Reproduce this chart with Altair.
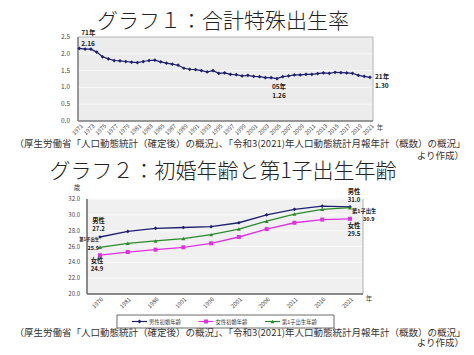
import altair as alt
import pandas as pd

# ---------------- data ----------------
title1 = "グラフ１：合計特殊出生率"
title2 = "グラフ２：初婚年齢と第1子出生年齢"
source_line = "（厚生労働省「人口動態統計（確定後）の概況」、「令和3(2021)年人口動態統計月報年計（概数）の概況」"
source_tail = "より作成）"

tfr_years = list(range(1971, 2022))
tfr_values = [2.16, 2.14, 2.14, 2.05, 1.91, 1.85, 1.80, 1.79, 1.77, 1.75,
              1.74, 1.77, 1.80, 1.81, 1.76, 1.72, 1.69, 1.66, 1.57, 1.54,
              1.53, 1.50, 1.46, 1.50, 1.42, 1.43, 1.39, 1.38, 1.34, 1.36,
              1.33, 1.32, 1.29, 1.29, 1.26, 1.32, 1.34, 1.37, 1.37, 1.39,
              1.39, 1.41, 1.43, 1.42, 1.45, 1.44, 1.43, 1.42, 1.36, 1.33, 1.30]
tfr_xlabels = list(range(1971, 2022, 2))
tfr_yticks = [0.0, 0.5, 1.0, 1.5, 2.0, 2.5]
tfr_note_years = [1971, 2005, 2021]
tfr_note_heads = ["71年", "05年", "21年"]

age_years = [1976, 1981, 1986, 1991, 1996, 2001, 2006, 2011, 2016, 2021]
age_series = ["男性初婚年齢", "女性初婚年齢", "第1子出生年齢"]
male_age = [27.2, 27.9, 28.3, 28.4, 28.5, 29.0, 30.0, 30.7, 31.1, 31.0]
female_age = [24.9, 25.3, 25.6, 25.9, 26.4, 27.2, 28.2, 29.0, 29.4, 29.5]
first_birth_age = [25.9, 26.4, 26.7, 27.0, 27.5, 28.2, 29.2, 30.1, 30.7, 30.9]
age_yticks = [20.0, 22.0, 24.0, 26.0, 28.0, 30.0, 32.0]
age_note_names = ["男性", "女性", "第1子出生"]

# ---------------- style / layout ----------------
FONT = "Noto Sans CJK JP"
M = 8
def px(v):
    return v - M

NAVY = "#1f1f6e"
age_colors = ["#1f1f6e", "#dd33dd", "#2a8a2a"]
age_shapes = ["diamond", "square", "triangle-up"]

one = pd.DataFrame({"k": [0]})

def text_at(s, x, y, size, color="#222", align="center", weight="normal"):
    return alt.Chart(pd.DataFrame({"t": [s]})).mark_text(
        font=FONT, fontSize=size, color=color, align=align, baseline="middle", fontWeight=weight
    ).encode(x=alt.value(px(x)), y=alt.value(px(y)), text="t:N")

def rect(x0, x1, y0, y1, **style):
    return alt.Chart(one).mark_rect(**style).encode(
        x=alt.value(px(x0)), x2=alt.value(px(x1)), y=alt.value(px(y0)), y2=alt.value(px(y1)))

def hline(x0, x1, y, color, w):
    return alt.Chart(one).mark_rule(color=color, strokeWidth=w).encode(
        x=alt.value(px(x0)), x2=alt.value(px(x1)), y=alt.value(px(y)))

def vline(x, y0, y1, color, w):
    return alt.Chart(one).mark_rule(color=color, strokeWidth=w).encode(
        x=alt.value(px(x)), y=alt.value(px(y0)), y2=alt.value(px(y1)))

# ---------------- panel 1 ----------------
P1 = dict(x0=78, x1=373, y0=37, y1=121)
xs1 = alt.Scale(domain=[1970.78, 2021.52], range=[px(P1["x0"]), px(P1["x1"])], nice=False, zero=False)
ys1 = alt.Scale(domain=[0, 2.5], range=[px(P1["y1"]), px(P1["y0"])], nice=False, zero=False)

tfr_df = pd.DataFrame({"year": tfr_years, "v": tfr_values})
X1 = alt.X("year:Q", scale=xs1, axis=None)
Y1 = alt.Y("v:Q", scale=ys1, axis=None)

p1_layers = [
    rect(P1["x0"], P1["x1"], P1["y0"], P1["y1"], fill="#ececec"),
    alt.Chart(pd.DataFrame({"v": tfr_yticks[1:-1]})).mark_rule(color="#fafafa", strokeWidth=1).encode(
        y=Y1, x=alt.value(px(P1["x0"])), x2=alt.value(px(P1["x1"]))),
    hline(P1["x0"], P1["x1"], P1["y0"], "#b5b5b5", 1),
    vline(P1["x1"], P1["y0"], P1["y1"], "#b5b5b5", 1),
    vline(P1["x0"], P1["y0"], P1["y1"], "#777777", 1.5),
    hline(P1["x0"], P1["x1"], P1["y1"], "#777777", 1.5),
    alt.Chart(tfr_df).mark_line(color=NAVY, strokeWidth=1.2).encode(x=X1, y=Y1),
    alt.Chart(tfr_df).mark_point(shape="diamond", filled=True, size=14, color=NAVY, opacity=1).encode(x=X1, y=Y1),
    alt.Chart(pd.DataFrame({"v": tfr_yticks, "lab": [f"{t:.1f}" for t in tfr_yticks]})).mark_text(
        font=FONT, fontSize=6.5, color="#444", align="right", baseline="middle").encode(
        y=Y1, x=alt.value(px(70)), text="lab:N"),
    alt.Chart(pd.DataFrame({"year": tfr_xlabels, "lab": [str(y) for y in tfr_xlabels]})).mark_text(
        font=FONT, fontSize=5.8, color="#444", align="right", baseline="middle", angle=315, dx=2, dy=2).encode(
        x=X1, y=alt.value(px(125)), text="lab:N"),
    text_at("年", 380, 128, 6.5, color="#444"),
]

tfr_note_offsets = [((2, -15.5, "left"), (2, -4.5, "left")),
                    ((2, 8, "center"), (2, 17, "center")),
                    ((5, -0.6, "left"), (5, 8.7, "left"))]
for yr, head, offs in zip(tfr_note_years, tfr_note_heads, tfr_note_offsets):
    v = tfr_values[tfr_years.index(yr)]
    d = pd.DataFrame({"year": [yr], "v": [v], "head": [head], "val": [f"{v:.2f}"]})
    for field, (dx, dy, al) in zip(["head", "val"], offs):
        p1_layers.append(alt.Chart(d).mark_text(
            font=FONT, fontSize=6.5, fontWeight="bold", color="#222", align=al, baseline="middle",
            dx=dx, dy=dy).encode(x=X1, y=Y1, text=f"{field}:N"))

panel1 = alt.layer(*p1_layers)

# ---------------- panel 2 ----------------
P2 = dict(x0=87, x1=363, y0=199, y1=294)
xs2 = alt.Scale(domain=[1973.66, 2023.34], range=[px(P2["x0"]), px(P2["x1"])], nice=False, zero=False)
ys2 = alt.Scale(domain=[20, 32], range=[px(P2["y1"]), px(P2["y0"])], nice=False, zero=False)
X2 = alt.X("year:Q", scale=xs2, axis=None)
Y2 = alt.Y("age:Q", scale=ys2, axis=None)

age_values = [male_age, female_age, first_birth_age]
age_long = pd.DataFrame({
    "year": age_years * 3,
    "age": male_age + female_age + first_birth_age,
    "series": [s for s in age_series for _ in age_years],
})
series_color = alt.Scale(domain=age_series, range=age_colors)

p2_layers = [
    rect(P2["x0"], P2["x1"], P2["y0"], P2["y1"], fill="#f0f0f0"),
    alt.Chart(pd.DataFrame({"age": age_yticks[1:]})).mark_rule(color="#fbfbfb", strokeWidth=1).encode(
        y=Y2, x=alt.value(px(P2["x0"])), x2=alt.value(px(P2["x1"]))),
    vline(P2["x1"], P2["y0"], P2["y1"], "#b0b0b0", 1),
    vline(P2["x0"], P2["y0"], P2["y1"], "#666666", 1.5),
    hline(P2["x0"], P2["x1"], P2["y1"], "#666666", 1.5),
    alt.Chart(age_long).mark_line(strokeWidth=1.3).encode(
        x=X2, y=Y2, stroke=alt.Stroke("series:N", scale=series_color, legend=None)),
]
for s, vals, col, shp in zip(age_series, age_values, age_colors, age_shapes):
    d = pd.DataFrame({"year": age_years, "age": vals})
    p2_layers.append(alt.Chart(d).mark_point(shape=shp, filled=True, size=16 if shp != "diamond" else 14,
                                             color=col, opacity=1).encode(x=X2, y=Y2))

p2_layers += [
    alt.Chart(pd.DataFrame({"age": age_yticks, "lab": [f"{t:.1f}" for t in age_yticks]})).mark_text(
        font=FONT, fontSize=6, color="#444", align="right", baseline="middle").encode(
        y=Y2, x=alt.value(px(80)), text="lab:N"),
    alt.Chart(pd.DataFrame({"year": age_years, "lab": [str(y) for y in age_years]})).mark_text(
        font=FONT, fontSize=5.8, color="#444", align="right", baseline="middle", angle=315, dx=2, dy=1).encode(
        x=X2, y=alt.value(px(299)), text="lab:N"),
    text_at("年", 369, 299, 6.5, color="#444"),
    text_at("歳", 77, 188, 6.5, color="#444"),
]

# annotations: (series index, year index, (dx, dy, align, size) for name, same for value)
age_note_specs = [
    (0, 0, (-1.5, -16, "center", 6.3), (-1.5, -8, "center", 6.0)),
    (2, 0, (-1, -7.5, "right", 4.3), (-1, 1, "right", 5.5)),
    (1, 0, (-3, 6, "center", 6.3), (-3, 14, "center", 6.0)),
    (0, -1, (4, -15, "center", 6.3), (4, -7, "center", 6.0)),
    (2, -1, (2, 3, "left", 5.3), (13, 11, "left", 5.5)),
    (1, -1, (4, 7, "center", 6.3), (4, 15, "center", 6.0)),
]
for si, yi, o_name, o_val in age_note_specs:
    v = age_values[si][yi]
    d = pd.DataFrame({"year": [age_years[yi]], "age": [v], "name": [age_note_names[si]], "val": [f"{v:.1f}"]})
    for field, (dx, dy, al, fs) in zip(["name", "val"], [o_name, o_val]):
        p2_layers.append(alt.Chart(d).mark_text(
            font=FONT, fontSize=fs, fontWeight="bold", color="#222", align=al, baseline="middle",
            dx=dx, dy=dy).encode(x=X2, y=Y2, text=f"{field}:N"))

panel2 = alt.layer(*p2_layers)

# ---------------- legend (series driven through a point scale) ----------------
leg_df = pd.DataFrame({"series": age_series})
LX = alt.X("series:N", scale=alt.Scale(type="point", domain=age_series, range=[px(139.5), px(272.5)], padding=0),
           axis=None)
LY = alt.value(px(321.5))
legend = alt.layer(
    rect(117, 334, 315, 328, fillOpacity=0, stroke="#444", strokeWidth=0.8),
    alt.Chart(leg_df).mark_tick(orient="horizontal", size=15, thickness=1.2, opacity=1).encode(
        x=LX, y=LY, color=alt.Color("series:N", scale=series_color, legend=None)),
    alt.Chart(leg_df).mark_point(filled=True, size=16, opacity=1).encode(
        x=LX, y=LY, color=alt.Color("series:N", scale=series_color, legend=None),
        shape=alt.Shape("series:N", scale=alt.Scale(domain=age_series, range=age_shapes), legend=None)),
    alt.Chart(leg_df).mark_text(font=FONT, fontSize=5.3, color="#333", align="left", baseline="middle",
                                dx=9.5).encode(x=LX, y=LY, text="series:N"),
)

# ---------------- titles and sources ----------------
texts = [
    text_at(title1, 223, 21.5, 21, color="#222", weight=300),
    text_at(source_line, 240, 144, 9.5, color="#333"),
    text_at(source_tail, 464, 155.5, 9.5, color="#333", align="right"),
    text_at(title2, 223, 171.5, 21, color="#222", weight=300),
    text_at(source_line, 240, 332.5, 9.5, color="#333"),
    text_at(source_tail, 464, 342.5, 9.5, color="#333", align="right"),
]

chart = alt.layer(*texts, panel1, panel2, legend).resolve_scale(
    x="independent", y="independent"
).properties(
    width=458, height=339, autosize=alt.AutoSizeParams(type="none"), padding=0
).configure_view(stroke=None)

chart.save("out.html", embed_options={"renderer": "svg", "actions": False})
